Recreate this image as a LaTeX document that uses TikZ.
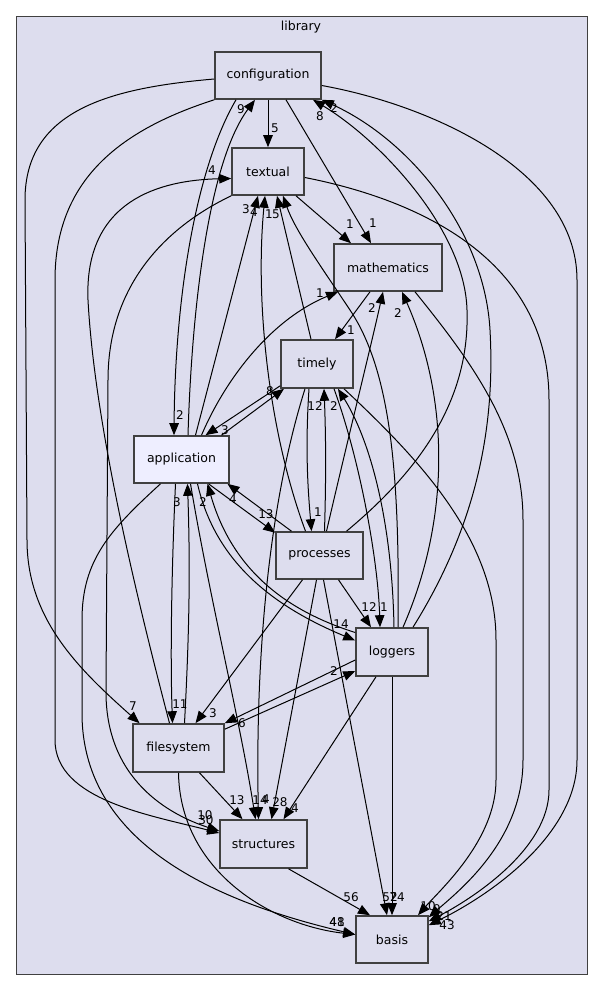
\documentclass[tikz,border=0pt]{standalone}
\usepackage{fontspec}
\setmainfont{DejaVu Sans}
\usetikzlibrary{arrows.meta}
\definecolor{clfill}{HTML}{DDDDEE}
\definecolor{curfill}{HTML}{EEEEFF}
\definecolor{bord}{HTML}{404040}
\begin{document}
\begin{tikzpicture}[x=1pt,y=-1pt,
  dirbox/.style={draw=bord,line width=1.6pt,fill=clfill,minimum height=47pt,inner sep=0pt,font=\fontsize{12.5}{14}\selectfont},
  edge/.style={line width=1pt,-{Triangle[length=12pt,width=9.5pt]}},
  lbl/.style={font=\fontsize{12}{13}\selectfont,inner sep=0pt}]
\useasboundingbox (0,0) rectangle (603,991);
\fill[white] (0,0) rectangle (603,991);
\node[draw=bord,fill=clfill,line width=1pt,minimum width=571pt,minimum height=958pt,inner sep=0pt] (library) at (301.5,495) {};
\node[lbl,font=\fontsize{12.5}{14}\selectfont] (liblabel) at (301,27) {library};

\node[dirbox,minimum width=106pt] (conf) at (268,75.5) {configuration};
\node[dirbox,minimum width=72pt] (text) at (268,171.5) {textual};
\node[dirbox,minimum width=108pt] (math) at (388,267.5) {mathematics};
\node[dirbox,minimum width=72pt,minimum height=48pt] (timely) at (317,364) {timely};
\node[dirbox,minimum width=95pt,fill=curfill] (app) at (181.5,459.5) {application};
\node[dirbox,minimum width=87pt] (proc) at (319.5,555.5) {processes};
\node[dirbox,minimum width=72pt,minimum height=48pt] (logg) at (392,652) {loggers};
\node[dirbox,minimum width=91pt,minimum height=48pt] (fs) at (178.5,748) {filesystem};
\node[dirbox,minimum width=87pt,minimum height=48pt] (struct) at (263.5,844) {structures};
\node[dirbox,minimum width=72pt] (basis) at (392,939.5) {basis};

% edges
\draw[edge] (conf.south) -- (text.north);
\draw[edge] ([xshift=18pt]conf.south) -- ([xshift=-17pt]math.north);
\draw[edge] ([xshift=-32pt]conf.south) .. controls (195,170) and (175,300) .. ([xshift=-7.5pt]app.north);
\draw[edge] ([xshift=6.5pt]app.north) .. controls (192,300) and (210,160) .. ([xshift=-13pt]conf.south);
\draw[edge] ([yshift=-3.5pt]conf.west) .. controls (110,88) and (25,110) .. (25,200) -- (27,540) .. controls (27,620) and (80,670) .. ([xshift=-39pt]fs.north);
\draw[edge] (conf.south west) .. controls (120,130) and (55,180) .. (55,280) -- (55,740) .. controls (55,800) and (150,815) .. ([yshift=11pt]struct.west);
\draw[edge] (text.south west) .. controls (160,230) and (108,290) .. (108,380) -- (106,690) .. controls (105,780) and (170,815) .. ([yshift=13pt]struct.west);
\draw[edge] ([xshift=-9pt]fs.north) .. controls (140,610) and (95,430) .. (88,300) .. controls (84,200) and (160,180) .. ([yshift=-7pt]text.west);
\draw[edge] ([yshift=-10pt]conf.east) .. controls (430,105) and (577,170) .. (577,280) -- (577,760) .. controls (577,830) and (500,890) .. ([yshift=-10pt]basis.north east);
\draw[edge] ([yshift=-6pt]text.east) .. controls (420,200) and (549,260) .. (549,400) -- (549,790) .. controls (549,850) and (470,900) .. ([yshift=-6pt]basis.north east);
\draw[edge] ([xshift=27pt]math.south) .. controls (470,360) and (523,430) .. (523,520) -- (523,760) .. controls (523,840) and (460,890) .. ([yshift=-2pt]basis.north east);
\draw[edge] ([xshift=27pt]timely.south) .. controls (420,460) and (496,540) .. (496,640) -- (496,780) .. controls (496,840) and (440,890) .. ([xshift=26pt]basis.north);
\draw[edge] ([xshift=14pt]app.north) -- ([xshift=-10pt]text.south);
\draw[edge] ([xshift=-14pt]proc.north) .. controls (268,430) and (255,300) .. ([xshift=-3pt]text.south);
\draw[edge] ([xshift=-6pt]timely.north) -- ([xshift=9pt]text.south);
\draw[edge] ([xshift=6pt]logg.north) .. controls (400,470) and (390,370) .. (350,310) .. controls (320,265) and (295,230) .. ([xshift=15pt]text.south);
\draw[edge] ([xshift=28pt]text.south) -- ([xshift=-37pt]math.north);
\draw[edge] ([xshift=20pt]app.north) .. controls (225,380) and (270,320) .. ([xshift=-50pt]math.south);
\draw[edge] ([xshift=7pt]proc.north) .. controls (350,430) and (370,350) .. ([xshift=-5pt]math.south);
\draw[edge] ([xshift=11pt]logg.north) .. controls (450,520) and (450,400) .. ([xshift=14pt]math.south);
\draw[edge] ([xshift=21pt]logg.north) .. controls (480,520) and (495,420) .. (490,330) .. controls (484.5,231) and (410,140) .. (conf.south east);
\draw[edge] ([xshift=27pt]proc.north) .. controls (420,470) and (470,400) .. (467,310) .. controls (465,230) and (380,140) .. ([xshift=45pt]conf.south);
\draw[edge] ([xshift=-18pt]math.south) -- ([xshift=18pt]timely.north);
\draw[edge] ([xshift=40pt]app.north) -- ([xshift=-33pt]timely.south);
\draw[edge] ([yshift=3pt]timely.south west) -- ([xshift=24pt]app.north);
\draw[edge] ([xshift=-8pt]timely.south) .. controls (305,450) and (308,490) .. ([xshift=-8pt]proc.north);
\draw[edge] ([xshift=5pt]proc.north) .. controls (326,480) and (326,440) .. ([xshift=7pt]timely.south);
\draw[edge] ([xshift=2pt]logg.north) .. controls (392,520) and (370,440) .. ([xshift=21pt]timely.south);
\draw[edge] ([xshift=17pt]timely.south) .. controls (360,460) and (378,560) .. ([xshift=-12pt]logg.north);
\draw[edge] ([xshift=-12pt]timely.south) .. controls (270,500) and (255,650) .. ([xshift=-5pt]struct.north);
\draw[edge] ([xshift=9pt]app.south) .. controls (210,600) and (240,720) .. ([xshift=-8pt]struct.north);
\draw[edge] ([xshift=6pt]fs.north) .. controls (190,620) and (190,560) .. ([xshift=6pt]app.south);
\draw[edge] ([xshift=-6pt]app.south) .. controls (172,560) and (170,650) .. ([xshift=-6pt]fs.north);
\draw[edge] ([xshift=27pt]app.south) -- ([yshift=-1.5pt]proc.north west);
\draw[edge] ([xshift=-28pt]proc.north) -- ([xshift=46pt]app.south);
\draw[edge] ([yshift=19.5pt]logg.west) .. controls (300,615) and (235,580) .. ([xshift=26pt]app.south);
\draw[edge] ([xshift=16pt]app.south) .. controls (215,560) and (270,605) .. ([yshift=11.5pt]logg.west);
\draw[edge] ([xshift=-17pt]proc.south) -- ([xshift=17pt]fs.north);
\draw[edge] ([yshift=-8pt]logg.west) -- (fs.north east);
\draw[edge] ([yshift=-6pt]fs.north east) -- ([yshift=-19pt]logg.west);
\draw[edge] ([xshift=19pt]proc.south) -- ([xshift=-21pt]logg.north);
\draw[edge] ([xshift=-3pt]proc.south) -- ([xshift=8pt]struct.north);
\draw[edge] ([xshift=4pt]proc.south) -- ([xshift=-5pt]basis.north);
\draw[edge] (logg.south) -- (basis.north);
\draw[edge] ([xshift=-16pt]logg.south) -- ([xshift=20pt]struct.north);
\draw[edge] ([xshift=21pt]fs.south) -- ([xshift=-21pt]struct.north);
\draw[edge] (fs.south) .. controls (180,870) and (270,925) .. ([yshift=5pt]basis.west);
\draw[edge] ([xshift=-21pt]app.south) .. controls (110,530) and (82,560) .. (82,620) -- (82,713) .. controls (82,850) and (230,905) .. ([yshift=5pt]basis.west);
\draw[edge] ([xshift=25pt]struct.south) -- ([xshift=-22pt]basis.north);

% labels
\node[lbl] (L1) at (275,128) {5};
\node[lbl] (L2) at (373,223) {1};
\node[lbl] (L3) at (180,415) {2};
\node[lbl] (L4) at (241,109) {9};
\node[lbl] (L5) at (133,706) {7};
\node[lbl] (L6) at (205,815) {10};
\node[lbl] (L7) at (206,820) {30};
\node[lbl] (L8) at (212,170) {4};
\node[lbl] (L9) at (447,925) {43};
\node[lbl] (L10) at (444,916) {21};
\node[lbl] (L11) at (437,909) {9};
\node[lbl] (L12) at (428,906) {10};
\node[lbl] (L13) at (246,209) {3};
\node[lbl] (L14) at (254,212) {4};
\node[lbl] (L15) at (269,214) {1};
\node[lbl] (L16) at (276,214) {5};
\node[lbl] (L17) at (350,224) {1};
\node[lbl] (L18) at (320,293) {1};
\node[lbl] (L19) at (372,308) {2};
\node[lbl] (L20) at (398,313) {2};
\node[lbl] (L21) at (334,108) {2};
\node[lbl] (L22) at (320,116) {8};
\node[lbl] (L23) at (351,330) {1};
\node[lbl] (L24) at (270,391) {8};
\node[lbl] (L25) at (225,430) {3};
\node[lbl] (L26) at (315,406) {12};
\node[lbl] (L27) at (334,406) {2};
\node[lbl] (L28) at (318,512) {1};
\node[lbl] (L29) at (384,607) {1};
\node[lbl] (L30) at (260,800) {14};
\node[lbl] (L31) at (266,799) {4};
\node[lbl] (L32) at (177,502) {3};
\node[lbl] (L33) at (180,704) {11};
\node[lbl] (L34) at (266,514) {13};
\node[lbl] (L35) at (233,499) {4};
\node[lbl] (L36) at (203,502) {2};
\node[lbl] (L37) at (341,624) {14};
\node[lbl] (L38) at (213,713) {3};
\node[lbl] (L39) at (242,723) {6};
\node[lbl] (L40) at (334,671) {2};
\node[lbl] (L41) at (369,607) {12};
\node[lbl] (L42) at (280,802) {28};
\node[lbl] (L43) at (390,897) {52};
\node[lbl] (L44) at (397,897) {74};
\node[lbl] (L45) at (295,808) {4};
\node[lbl] (L46) at (237,800) {13};
\node[lbl] (L47) at (337,922) {48};
\node[lbl] (L48) at (337,922) {41};
\node[lbl] (L49) at (351,897) {56};
\end{tikzpicture}
\end{document}
